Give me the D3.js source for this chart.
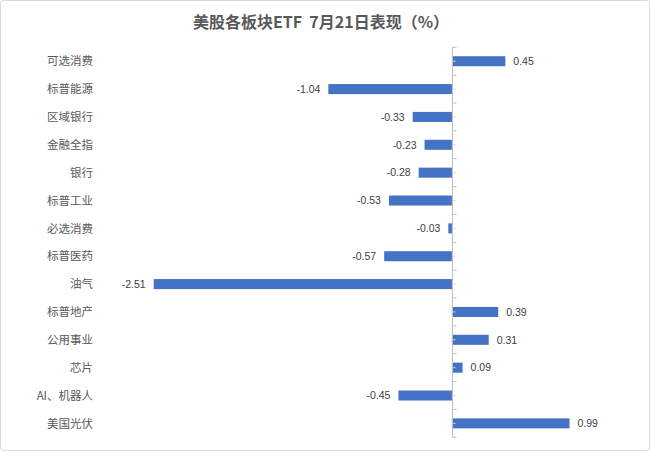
<!DOCTYPE html>
<html>
<head>
<meta charset="utf-8">
<script src="https://cdn.jsdelivr.net/npm/d3@7"></script>
<style>
  html, body { margin: 0; padding: 0; background: #fff; }
  svg { display: block; }
</style>
</head>
<body>
<div id="chart"></div>
<script>
// sectors, top to bottom
const categories = ['可选消费', '标普能源', '区域银行', '金融全指', '银行', '标普工业', '必选消费',
  '标普医药', '油气', '标普地产', '公用事业', '芯片', 'AI、机器人', '美国光伏']
const values = [0.45, -1.04, -0.33, -0.23, -0.28, -0.53, -0.03, -0.57, -2.51, 0.39, 0.31, 0.09, -0.45, 0.99]
const title = '美股各板块ETF  7月21日表现（%）'

const width = 650
const height = 451

const svg = d3.select('#chart').append('svg')
  .attr('width', width)
  .attr('height', height)

// chart frame
svg.append('rect')
  .attr('x', 0.5).attr('y', 0.5)
  .attr('width', width - 1).attr('height', height - 1)
  .attr('rx', 3)
  .attr('fill', '#fff')
  .attr('stroke', '#d9d9d9')

svg.append('text')
  .attr('x', 321)
  .attr('y', 28)
  .attr('text-anchor', 'middle')
  .style('white-space', 'pre')
  .attr('font-family', '"Noto Sans CJK SC", sans-serif')
  .attr('font-size', 16)
  .attr('font-weight', 'bold')
  .attr('fill', '#595959')
  .text(title)

// scales (0 sits at x≈452, ~119 px per unit)
const x = d3.scaleLinear()
  .domain([-3, 1.5])
  .range([95.5, 630.1])

const y = d3.scaleBand()
  .domain(categories)
  .range([47.3, 437.3])
  .paddingInner(0.64)
  .paddingOuter(0.32)

const data = categories.map((c, i) => ({ name: c, value: values[i] }))

// bars
svg.append('g')
  .selectAll('rect')
  .data(data)
  .join('rect')
    .attr('x', d => x(Math.min(0, d.value)))
    .attr('y', d => y(d.name))
    .attr('width', d => Math.abs(x(d.value) - x(0)))
    .attr('height', y.bandwidth())
    .attr('fill', '#4472c4')

// category axis at zero
const x0 = Math.round(x(0)) + 0.5
const axisG = svg.append('g')
axisG.append('line')
  .attr('x1', x0).attr('x2', x0)
  .attr('y1', y.range()[0]).attr('y2', y.range()[1])
  .attr('stroke', '#bfbfbf')

const step = y.step()
const boundaries = d3.range(categories.length + 1).map(i => y.range()[0] + i * step)
axisG.selectAll('line.major')
  .data(boundaries)
  .join('line')
    .attr('class', 'major')
    .attr('x1', x0).attr('x2', x0 + 4)
    .attr('y1', d => d).attr('y2', d => d)
    .attr('stroke', '#bfbfbf')

axisG.selectAll('line.minor')
  .data(categories)
  .join('line')
    .attr('class', 'minor')
    .attr('x1', x0).attr('x2', x0 + 3)
    .attr('y1', d => y(d) + y.bandwidth() / 2)
    .attr('y2', d => y(d) + y.bandwidth() / 2)
    .attr('stroke', '#d0d0d0')

// category labels on the left
svg.append('g')
  .selectAll('text')
  .data(categories)
  .join('text')
    .attr('x', 93)
    .attr('y', d => y(d) + y.bandwidth() / 2)
    .attr('dy', '0.36em')
    .attr('text-anchor', 'end')
    .attr('font-family', '"Noto Sans CJK SC", sans-serif')
    .attr('font-size', 11.5)
    .attr('fill', '#595959')
    .text(d => d)

// value labels (plain hyphen for negatives, as in the source)
svg.append('g')
  .selectAll('text')
  .data(data)
  .join('text')
    .attr('x', d => d.value >= 0 ? x(d.value) + 8 : x(d.value) - 8)
    .attr('y', d => y(d.name) + y.bandwidth() / 2)
    .attr('dy', '0.36em')
    .attr('text-anchor', d => d.value >= 0 ? 'start' : 'end')
    .attr('font-family', '"Liberation Sans", Arial, sans-serif')
    .attr('font-size', 10.5)
    .attr('fill', '#404040')
    .text(d => d.value.toFixed(2))
</script>
</body>
</html>
